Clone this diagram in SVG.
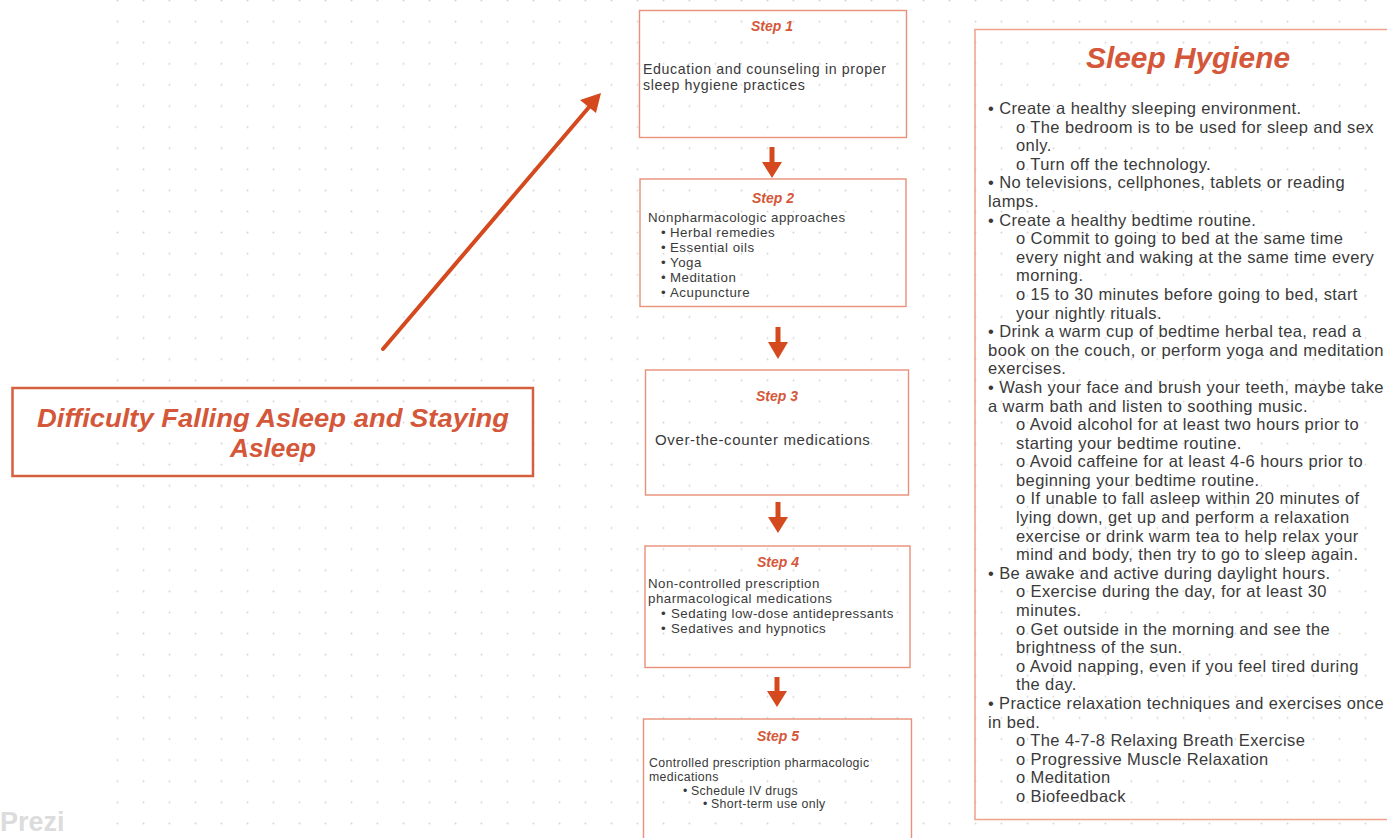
<svg xmlns="http://www.w3.org/2000/svg" width="1387" height="838" viewBox="0 0 1387 838">
<style>
.body{font-family:"Liberation Sans",Arial,sans-serif;fill:#3a3a3a}
.ttl{font-family:"Liberation Sans",Arial,sans-serif;font-weight:700;font-style:italic;fill:#d4573a}
.step{fill:none;stroke:#ea8f78;stroke-width:1.4}
</style>
<defs>
<pattern id="dots" x="117" y="0" width="26" height="21.1" patternUnits="userSpaceOnUse">
<circle cx="0.5" cy="0.5" r="1" fill="#d6d6d6"/>
<circle cx="26.5" cy="0.5" r="1" fill="#d6d6d6"/>
<circle cx="0.5" cy="21.6" r="1" fill="#d6d6d6"/>
</pattern>
</defs>
<rect width="1387" height="838" fill="#ffffff"/>
<rect x="110" y="0" width="1277" height="838" fill="url(#dots)"/>

<text x="0" y="831" font-family="'Liberation Sans',Arial,sans-serif" font-weight="700" font-size="27" fill="#dcdcdc">Prezi</text>

<g id="main-problem">
<rect x="12.5" y="388" width="520.5" height="88" fill="none" stroke="#d4603f" stroke-width="2.5"/>
<text class="ttl" font-size="25" text-anchor="middle"><tspan x="273" y="427" textLength="472" lengthAdjust="spacingAndGlyphs">Difficulty Falling Asleep and Staying</tspan><tspan x="273" y="457" textLength="86" lengthAdjust="spacingAndGlyphs">Asleep</tspan></text>
</g>

<g id="step1">
<rect class="step" x="639.5" y="10.5" width="267" height="127"/>
<text class="ttl" x="772" y="31" font-size="14" text-anchor="middle">Step 1</text>
<text class="body" font-size="14.2" letter-spacing="0.62"><tspan x="643" y="74">Education and counseling in proper</tspan><tspan x="643" y="90">sleep hygiene practices</tspan></text>
</g>

<g id="step2">
<rect class="step" x="640" y="179" width="266" height="127.5"/>
<text class="ttl" x="773" y="203" font-size="14" text-anchor="middle">Step 2</text>
<text class="body" font-size="13.3" letter-spacing="0.5"><tspan x="648" y="222">Nonpharmacologic approaches</tspan><tspan x="661" y="237">•</tspan><tspan x="670" y="237">Herbal remedies</tspan><tspan x="661" y="252">•</tspan><tspan x="670" y="252">Essential oils</tspan><tspan x="661" y="267">•</tspan><tspan x="670" y="267">Yoga</tspan><tspan x="661" y="282">•</tspan><tspan x="670" y="282">Meditation</tspan><tspan x="661" y="297">•</tspan><tspan x="670" y="297">Acupuncture</tspan></text>
</g>

<g id="step3">
<rect class="step" x="645.5" y="370" width="263" height="125"/>
<text class="ttl" x="777" y="401" font-size="14" text-anchor="middle">Step 3</text>
<text class="body" x="655" y="445" font-size="15" letter-spacing="0.64">Over-the-counter medications</text>
</g>

<g id="step4">
<rect class="step" x="645" y="546" width="265" height="121.5"/>
<text class="ttl" x="778" y="567" font-size="14" text-anchor="middle">Step 4</text>
<text class="body" font-size="13.3" letter-spacing="0.48"><tspan x="648" y="588">Non-controlled prescription</tspan><tspan x="648" y="603">pharmacological medications</tspan><tspan x="661" y="618">•</tspan><tspan x="671" y="618">Sedating low-dose antidepressants</tspan><tspan x="661" y="633">•</tspan><tspan x="671" y="633">Sedatives and hypnotics</tspan></text>
</g>

<g id="step5">
<rect class="step" x="643.5" y="719" width="268" height="140"/>
<text class="ttl" x="778" y="741" font-size="14" text-anchor="middle">Step 5</text>
<text class="body" font-size="12.3" letter-spacing="0.38"><tspan x="649" y="767">Controlled prescription pharmacologic</tspan><tspan x="649" y="781">medications</tspan><tspan x="683" y="795">•</tspan><tspan x="691" y="795">Schedule IV drugs</tspan><tspan x="703" y="808">•</tspan><tspan x="711" y="808">Short-term use only</tspan></text>
</g>

<g id="sleep-hygiene">
<rect x="975" y="29.5" width="430" height="790" fill="none" stroke="#f0a08c" stroke-width="1.5"/>
<text class="ttl" x="1188" y="68" font-size="29" text-anchor="middle" textLength="204" lengthAdjust="spacingAndGlyphs">Sleep Hygiene</text>
<text class="body" font-size="16.5" letter-spacing="0.4">
<tspan x="988" y="114">• Create a healthy sleeping environment.</tspan>
<tspan x="1016" y="132.6">o The bedroom is to be used for sleep and sex</tspan>
<tspan x="1016" y="151.2">only.</tspan>
<tspan x="1016" y="169.8">o Turn off the technology.</tspan>
<tspan x="988" y="188.4">• No televisions, cellphones, tablets or reading</tspan>
<tspan x="988" y="207">lamps.</tspan>
<tspan x="988" y="225.5">• Create a healthy bedtime routine.</tspan>
<tspan x="1016" y="244.1">o Commit to going to bed at the same time</tspan>
<tspan x="1016" y="262.7">every night and waking at the same time every</tspan>
<tspan x="1016" y="281.3">morning.</tspan>
<tspan x="1016" y="299.9">o 15 to 30 minutes before going to bed, start</tspan>
<tspan x="1016" y="318.5">your nightly rituals.</tspan>
<tspan x="988" y="337.1">• Drink a warm cup of bedtime herbal tea, read a</tspan>
<tspan x="988" y="355.7" textLength="396" lengthAdjust="spacingAndGlyphs">book on the couch, or perform yoga and meditation</tspan>
<tspan x="988" y="374.3">exercises.</tspan>
<tspan x="988" y="392.9" textLength="396" lengthAdjust="spacingAndGlyphs">• Wash your face and brush your teeth, maybe take</tspan>
<tspan x="988" y="411.5">a warm bath and listen to soothing music.</tspan>
<tspan x="1016" y="430">o Avoid alcohol for at least two hours prior to</tspan>
<tspan x="1016" y="448.6">starting your bedtime routine.</tspan>
<tspan x="1016" y="467.2">o Avoid caffeine for at least 4-6 hours prior to</tspan>
<tspan x="1016" y="485.8">beginning your bedtime routine.</tspan>
<tspan x="1016" y="504.4">o If unable to fall asleep within 20 minutes of</tspan>
<tspan x="1016" y="523">lying down, get up and perform a relaxation</tspan>
<tspan x="1016" y="541.6">exercise or drink warm tea to help relax your</tspan>
<tspan x="1016" y="560.2">mind and body, then try to go to sleep again.</tspan>
<tspan x="988" y="578.8">• Be awake and active during daylight hours.</tspan>
<tspan x="1016" y="597.4">o Exercise during the day, for at least 30</tspan>
<tspan x="1016" y="616">minutes.</tspan>
<tspan x="1016" y="634.5">o Get outside in the morning and see the</tspan>
<tspan x="1016" y="653.1">brightness of the sun.</tspan>
<tspan x="1016" y="671.7">o Avoid napping, even if you feel tired during</tspan>
<tspan x="1016" y="690.3">the day.</tspan>
<tspan x="988" y="708.9" textLength="396" lengthAdjust="spacingAndGlyphs">• Practice relaxation techniques and exercises once</tspan>
<tspan x="988" y="727.5">in bed.</tspan>
<tspan x="1016" y="746.1">o The 4-7-8 Relaxing Breath Exercise</tspan>
<tspan x="1016" y="764.7">o Progressive Muscle Relaxation</tspan>
<tspan x="1016" y="783.3">o Meditation</tspan>
<tspan x="1016" y="801.9">o Biofeedback</tspan>
</text>
</g>

<g id="connectors" fill="#d44a1e" stroke="none">
<line x1="383" y1="349" x2="590" y2="106" stroke="#d44a1e" stroke-width="4" stroke-linecap="round"/>
<path d="M601,93 L580,100 L596,113 Z"/>
<rect x="769.5" y="147" width="5" height="16"/>
<path d="M762,162 L782,162 L772,178 Z"/>
<rect x="775.5" y="327" width="5" height="16"/>
<path d="M768,342 L788,342 L778,359 Z"/>
<rect x="775.5" y="502" width="5" height="16"/>
<path d="M768,517 L788,517 L778,533 Z"/>
<rect x="774.5" y="677" width="5" height="15"/>
<path d="M767,691 L787,691 L777,707 Z"/>
</g>
</svg>
